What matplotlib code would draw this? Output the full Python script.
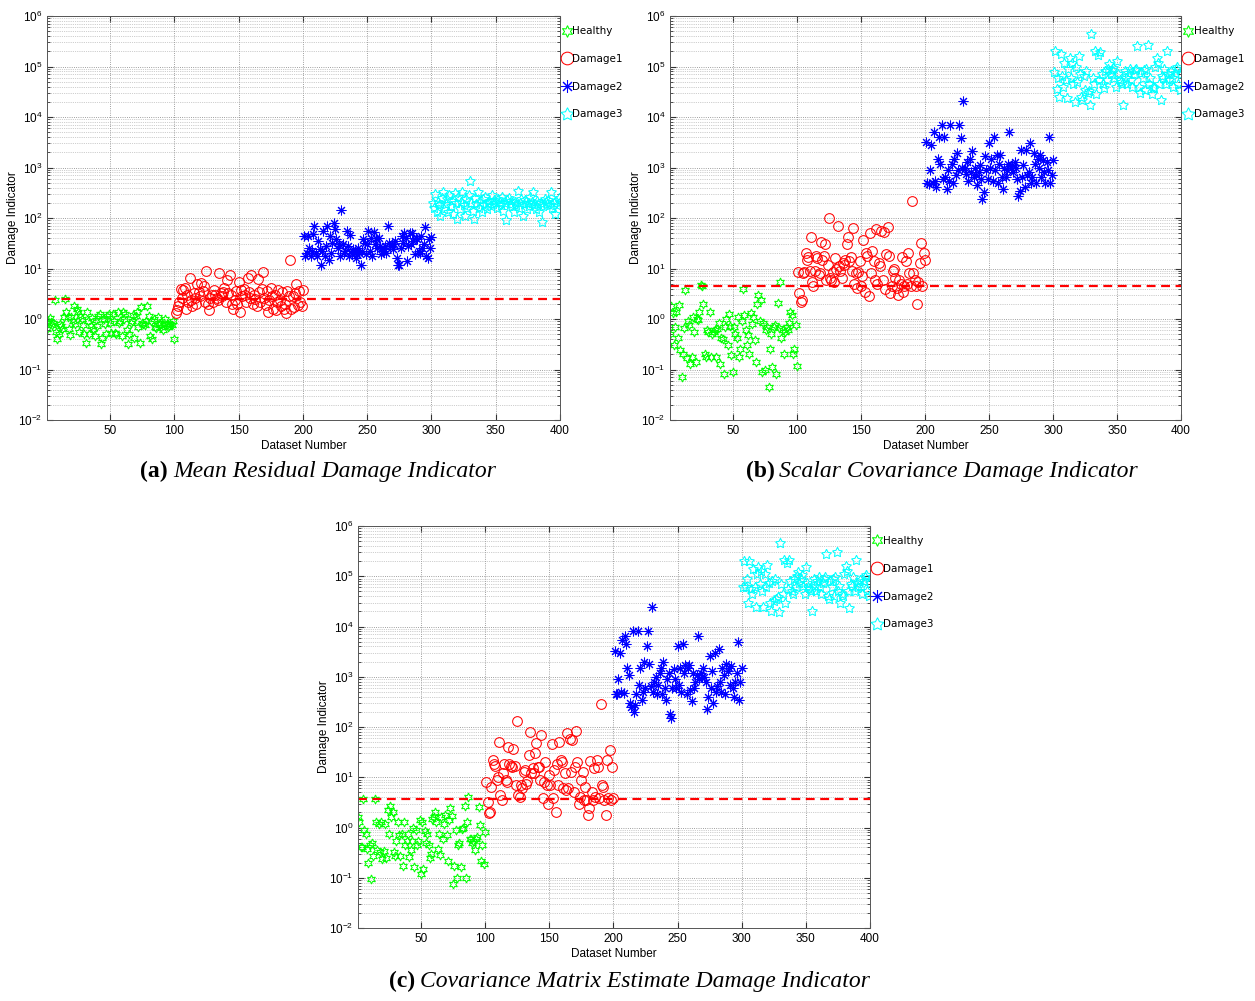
import matplotlib
matplotlib.use('Agg')
import matplotlib.pyplot as plt
from matplotlib.ticker import LogLocator, NullFormatter
import numpy as np

# ---- panel (a): mean residual damage indicator ----
healthy_a = [0.64, 0.93, 1.05, 0.88, 0.75, 0.85, 2.4, 0.55, 0.41, 0.5,
             0.8, 0.72, 0.62, 1.1, 2.5, 1.35, 1.1, 0.63, 0.48, 1.1,
             0.9, 1.8, 0.8, 1.6, 1.4, 0.55, 1.15, 1.0, 0.75, 0.5,
             0.34, 1.4, 0.9, 0.5, 0.72, 1.05, 0.62, 0.47, 0.95, 0.72,
             1.15, 1.25, 0.32, 0.43, 1.0, 0.8, 0.5, 1.15, 1.25, 0.85,
             0.53, 1.25, 0.9, 0.53, 0.5, 1.4, 0.85, 0.9, 0.47, 1.35,
             1.0, 1.25, 0.6, 0.32, 0.5, 0.85, 0.9, 1.2, 0.43, 1.15,
             1.35, 0.7, 0.34, 1.7, 0.85, 0.8, 0.75, 0.9, 1.8, 1.15,
             0.47, 0.9, 0.4, 1.0, 0.7, 0.65, 1.1, 0.75, 0.8, 0.7,
             0.6, 0.85, 1.0, 0.78, 0.68, 0.72, 0.8, 0.75, 0.9, 0.4]
damage1_a = [1.3, 1.5, 1.8, 2.2, 4.0, 2.6, 3.8, 4.2, 1.6, 3.0,
             2.2, 6.5, 2.4, 1.8, 3.2, 2.6, 2.0, 5.0, 3.5, 2.8,
             5.2, 3.6, 4.5, 2.2, 8.8, 2.0, 1.5, 2.6, 3.0, 2.2,
             3.8, 3.0, 2.6, 2.4, 8.0, 3.2, 2.8, 3.5, 4.2, 2.2,
             5.8, 3.2, 7.5, 3.0, 2.0, 1.6, 2.4, 3.6, 2.0, 5.5,
             1.4, 3.8, 2.8, 4.0, 3.0, 2.2, 6.5, 3.4, 2.6, 7.5,
             2.0, 3.0, 2.5, 1.8, 6.2, 3.4, 2.2, 4.0, 8.5, 2.6,
             1.9, 3.6, 1.4, 2.4, 4.2, 2.8, 1.6, 3.0, 1.5, 2.2,
             3.8, 2.4, 1.8, 3.4, 1.6, 2.0, 1.3, 3.6, 2.8, 15.0,
             1.6, 2.8, 1.7, 3.2, 5.0, 1.9, 3.6, 2.2, 1.8, 3.8]
damage2_a = [45, 18, 20, 45, 25, 18, 22, 49, 71, 20,
             18, 35, 24, 12, 22, 55, 18, 28, 70, 15,
             45, 20, 32, 80, 60, 38, 25, 30, 18, 147,
             30, 20, 22, 55, 28, 18, 47, 20, 24, 20,
             16, 19, 25, 20, 11.5, 22, 38, 32, 19, 30,
             55, 22, 40, 18, 52, 30, 40, 26, 40, 28,
             19, 22, 24, 28, 20, 70, 32, 28, 30, 24,
             30, 35, 16, 12, 12, 26, 45, 32, 50, 40,
             14, 28, 50, 30, 50, 35, 19, 40, 38, 22,
             20, 45, 26, 30, 65, 18, 16, 38, 25, 42]
damage3_a = [200, 160, 300, 130, 210, 180, 110, 250, 320, 150,
             190, 240, 130, 280, 170, 220, 120, 310, 200, 95,
             260, 150, 210, 330, 180, 110, 240, 160, 280, 550,
             200, 140, 95, 250, 190, 320, 160, 210, 130, 240,
             180, 260, 150, 200, 220, 170, 280, 190, 230, 200,
             160, 240, 210, 180, 260, 140, 200, 90, 230, 250,
             190, 220, 170, 130, 210, 180, 340, 160, 200, 240,
             110, 190, 230, 150, 200, 170, 260, 210, 330, 180,
             150, 220, 190, 130, 200, 85, 170, 240, 210, 190,
             230, 180, 320, 160, 200, 120, 220, 180, 250, 210]
threshold_a = 2.5

# ---- panel (b): scalar covariance damage indicator ----
healthy_b = [0.5, 1.8, 1.3, 0.3, 0.7, 1.4, 0.42, 1.9, 0.24, 0.07,
             0.2, 0.65, 3.7, 0.17, 0.9, 0.75, 0.13, 0.18, 1.1, 0.55,
             0.14, 1.0, 0.95, 1.4, 4.8, 4.5, 2.0, 0.2, 0.18, 0.6,
             0.55, 1.35, 0.18, 0.5, 0.55, 0.6, 0.18, 0.62, 0.85, 0.13,
             0.42, 0.4, 0.08, 0.7, 1.0, 0.3, 1.25, 0.72, 0.19, 0.09,
             0.7, 0.5, 0.42, 1.1, 0.18, 0.25, 0.9, 4.0, 1.2, 0.6,
             0.3, 0.48, 0.2, 1.3, 0.8, 1.1, 0.38, 0.14, 2.0, 3.0,
             0.9, 2.4, 0.09, 0.85, 0.1, 0.6, 0.7, 0.045, 0.25, 0.5,
             0.11, 0.7, 0.75, 0.08, 2.1, 0.65, 5.3, 0.42, 0.6, 0.2,
             0.55, 0.7, 0.6, 0.85, 1.4, 1.2, 0.2, 0.26, 0.75, 0.12]
damage1_b = [8.5, 3.2, 2.2, 2.4, 8.0, 8.5, 20, 15, 17, 9,
             42, 5.5, 4.5, 9, 18, 16, 7.5, 8, 33, 15,
             18, 30, 6, 12, 100, 6.5, 6, 8.5, 5.5, 16,
             10, 70, 11, 9, 6.5, 13, 12, 15, 30, 42,
             14, 17, 9, 64, 5, 8, 4.2, 8.5, 14, 4.5,
             7, 36, 3.5, 20, 18, 2.9, 50, 8, 22, 14,
             6, 60, 5, 13, 11, 56, 6, 52, 4, 19,
             65, 18, 3.2, 4.5, 9, 10, 6.5, 4.2, 3, 6,
             5, 17, 3.5, 4.5, 14, 5, 20, 8, 4.5, 220,
             8, 6, 4.5, 2, 5.5, 13, 32, 4.5, 20, 15]
damage2_b = [3200, 500, 480, 900, 2800, 500, 5000, 550, 420, 1500,
             4000, 1200, 7000, 600, 4000, 650, 380, 900, 550, 7000,
             1200, 500, 1500, 700, 1900, 900, 7000, 3800, 1000, 21000,
             1000, 750, 1300, 550, 1500, 800, 2100, 650, 1000, 700,
             450, 800, 1100, 600, 240, 330, 1700, 900, 600, 3000,
             1000, 1500, 550, 4000, 900, 1800, 500, 1200, 1800, 650,
             380, 1000, 650, 900, 1200, 5000, 1000, 1100, 800, 1300,
             1000, 600, 270, 350, 2200, 650, 1100, 420, 2200, 700,
             800, 3000, 500, 650, 1900, 1200, 500, 1500, 1000, 1800,
             650, 1400, 800, 500, 1300, 900, 4000, 500, 700, 1400]
damage3_b = [78000, 200000, 36000, 60000, 25000, 180000, 65000, 40000, 120000, 55000,
             24000, 90000, 150000, 60000, 120000, 45000, 20000, 100000, 50000, 160000,
             72000, 25000, 22000, 65000, 35000, 80000, 30000, 33000, 17000, 440000,
             60000, 45000, 200000, 28000, 170000, 55000, 190000, 70000, 45000, 38000,
             80000, 55000, 90000, 110000, 70000, 85000, 95000, 60000, 40000, 130000,
             70000, 55000, 50000, 45000, 17000, 80000, 60000, 45000, 75000, 90000,
             55000, 40000, 70000, 85000, 90000, 260000, 40000, 30000, 75000, 60000,
             85000, 35000, 90000, 270000, 45000, 60000, 28000, 40000, 37000, 100000,
             150000, 120000, 45000, 22000, 65000, 60000, 90000, 45000, 200000, 70000,
             55000, 80000, 60000, 40000, 75000, 90000, 100000, 45000, 35000, 70000]
threshold_b = 4.5

# ---- panel (c): covariance matrix estimate damage indicator ----
healthy_c = [1.6, 1.3, 0.4, 0.4, 3.7, 0.9, 0.75, 0.38, 0.2, 0.45,
             0.095, 0.5, 0.27, 3.7, 1.3, 0.35, 1.2, 0.32, 1.3, 0.24,
             0.34, 1.2, 0.25, 2.2, 0.75, 2.7, 1.6, 2.0, 0.33, 0.27,
             0.55, 1.3, 0.7, 0.27, 0.75, 0.17, 1.3, 0.45, 0.55, 0.75,
             0.26, 0.35, 0.55, 1.0, 0.16, 0.9, 0.45, 0.55, 1.4, 0.12,
             1.3, 0.15, 0.85, 0.5, 0.75, 0.45, 0.25, 0.3, 1.5, 1.6,
             2.0, 1.3, 0.38, 0.75, 0.29, 1.6, 0.6, 1.2, 1.8, 0.7,
             0.22, 1.4, 2.4, 1.7, 0.075, 0.17, 0.9, 0.1, 0.45, 0.5,
             0.16, 0.95, 1.0, 2.7, 0.1, 1.3, 4.0, 0.6, 0.6, 0.5,
             0.55, 0.35, 0.6, 0.65, 2.6, 1.1, 0.22, 0.45, 0.19, 0.8]
damage1_c = [8, 3.2, 1.9, 2.0, 6.5, 22, 18, 17, 9, 10,
             50, 4.5, 3.5, 12, 18, 9, 8, 40, 18, 17,
             16, 36, 17, 7, 130, 4.5, 4, 7, 6, 13,
             14, 7.5, 8.5, 28, 80, 12, 15, 12, 30, 48,
             16, 16, 9, 70, 3.8, 8, 20, 7, 3, 11,
             7, 45, 3.8, 14, 2, 18, 7, 50, 22, 20,
             6, 12, 5.5, 75, 6, 57, 13, 55, 5, 16,
             85, 20, 3, 4, 9, 13, 3.5, 6.5, 3.5, 1.8,
             2.5, 21, 5, 3.5, 15, 4, 22, 16, 3.8, 290,
             7, 6.5, 3.5, 1.8, 22, 3.8, 35, 3.5, 16, 3.8]
damage2_c = [3200, 450, 450, 900, 3000, 500, 5500, 480, 6500, 4500,
             1500, 1100, 300, 250, 8000, 200, 280, 450, 8000, 700,
             1500, 350, 500, 2000, 600, 4000, 8000, 1800, 650, 25000,
             500, 800, 1000, 450, 700, 1200, 1500, 450, 2000, 600,
             350, 900, 1200, 180, 150, 600, 1400, 900, 600, 4000,
             700, 1500, 500, 4500, 1200, 1700, 450, 1500, 1700, 550,
             330, 1200, 600, 800, 1100, 6500, 900, 1200, 1000, 1500,
             1000, 800, 230, 400, 2600, 600, 1300, 300, 3000, 500,
             650, 3500, 800, 500, 1500, 1100, 450, 1800, 1300, 1500,
             700, 1600, 600, 400, 800, 1200, 5000, 350, 800, 1500]
damage3_c = [60000, 200000, 60000, 90000, 30000, 200000, 55000, 45000, 140000, 60000,
             25000, 110000, 150000, 70000, 130000, 50000, 24000, 110000, 60000, 170000,
             75000, 30000, 20000, 80000, 32000, 90000, 35000, 38000, 19000, 450000,
             70000, 45000, 210000, 30000, 180000, 55000, 210000, 80000, 50000, 45000,
             90000, 60000, 100000, 120000, 75000, 90000, 105000, 65000, 45000, 150000,
             75000, 60000, 55000, 50000, 20000, 90000, 65000, 50000, 80000, 95000,
             60000, 45000, 75000, 90000, 95000, 280000, 40000, 35000, 80000, 60000,
             90000, 40000, 95000, 300000, 50000, 65000, 30000, 45000, 40000, 110000,
             160000, 125000, 50000, 23000, 70000, 65000, 95000, 50000, 210000, 75000,
             60000, 85000, 65000, 45000, 80000, 95000, 105000, 50000, 40000, 75000]
threshold_c = 3.7

class_names = ['Healthy', 'Damage1', 'Damage2', 'Damage3']
class_colors = ['#00ff00', '#ff0000', '#0000ff', '#00ffff']
class_markers = [(6, 1, 0), 'o', (8, 2, 0), (5, 1, 0)]
class_sizes = [6.5, 7, 7, 7.5]

panels = [
    ([healthy_a, damage1_a, damage2_a, damage3_a], threshold_a, '(a)',
     'Mean Residual Damage Indicator'),
    ([healthy_b, damage1_b, damage2_b, damage3_b], threshold_b, '(b)',
     'Scalar Covariance Damage Indicator'),
    ([healthy_c, damage1_c, damage2_c, damage3_c], threshold_c, '(c)',
     'Covariance Matrix Estimate Damage Indicator'),
]

W, H = 1255, 1001
fig = plt.figure(figsize=(W / 100, H / 100), dpi=100)

# axes boxes in pixels: left, top, right, bottom
boxes = [(47, 16, 560, 420), (670, 16, 1181, 420), (358, 526, 870, 928)]
# caption anchors: x where bold label ends, x where italic text starts, y
captions = [(168, 173, 471), (775, 779, 471), (415, 420, 981)]

for (series, thr, tag, title), (l, t, r, b), (cx0, cx1, cy) in zip(panels, boxes, captions):
    ax = fig.add_axes([l / W, 1 - b / H, (r - l) / W, (b - t) / H])
    for k, vals in enumerate(series):
        idx = np.arange(1, len(vals) + 1) + 100 * k
        ax.plot(idx, vals, linestyle='none', marker=class_markers[k],
                markersize=class_sizes[k], markerfacecolor='none',
                markeredgecolor=class_colors[k], markeredgewidth=0.75,
                color=class_colors[k], label=class_names[k])
    ax.axhline(thr, color='red', linestyle=(0, (4, 2.5)), linewidth=1.6)

    ax.set_yscale('log')
    ax.set_ylim(1e-2, 1e6)
    ax.set_xlim(1, 400)
    ax.set_xticks([50, 100, 150, 200, 250, 300, 350, 400])
    ax.yaxis.set_major_locator(LogLocator(base=10, numticks=12))
    ax.yaxis.set_minor_locator(LogLocator(base=10, subs=np.arange(2, 10), numticks=12))
    ax.yaxis.set_minor_formatter(NullFormatter())
    ax.grid(True, which='major', linestyle=':', color='#808080', linewidth=0.6)
    ax.grid(True, which='minor', axis='y', linestyle=':', color='#a0a0a0', linewidth=0.5)
    ax.tick_params(which='both', direction='in', top=True, right=True,
                   labelsize=8.5, colors='#333333', labelcolor='black')
    ax.tick_params(which='major', length=4)
    ax.tick_params(which='minor', length=2)
    for lab in ax.get_xticklabels() + ax.get_yticklabels():
        lab.set_family('Liberation Sans')
    for sp in ax.spines.values():
        sp.set_color('#555555')
        sp.set_linewidth(0.7)
    ax.set_xlabel('Dataset Number', fontsize=8.5, family='Liberation Sans', labelpad=2)
    ax.set_ylabel('Damage Indicator', fontsize=8.5, family='Liberation Sans')
    ax.yaxis.set_label_coords(-28 / (r - l), 0.5)

    ax.legend(loc='upper left', bbox_to_anchor=(1.0, 0.98), frameon=False,
              fontsize=7.5, labelspacing=1.7, handlelength=0.9,
              handletextpad=0.1, borderaxespad=0.1, borderpad=0.1,
              markerscale=1.3)

    fig.text(cx0 / W, 1 - cy / H, tag, ha='right', va='center',
             fontsize=17, fontweight='bold', family='Liberation Serif')
    fig.text(cx1 / W, 1 - cy / H, title, ha='left', va='center',
             fontsize=17, fontstyle='italic', family='Liberation Serif')

fig.savefig('out.png', dpi=100)
